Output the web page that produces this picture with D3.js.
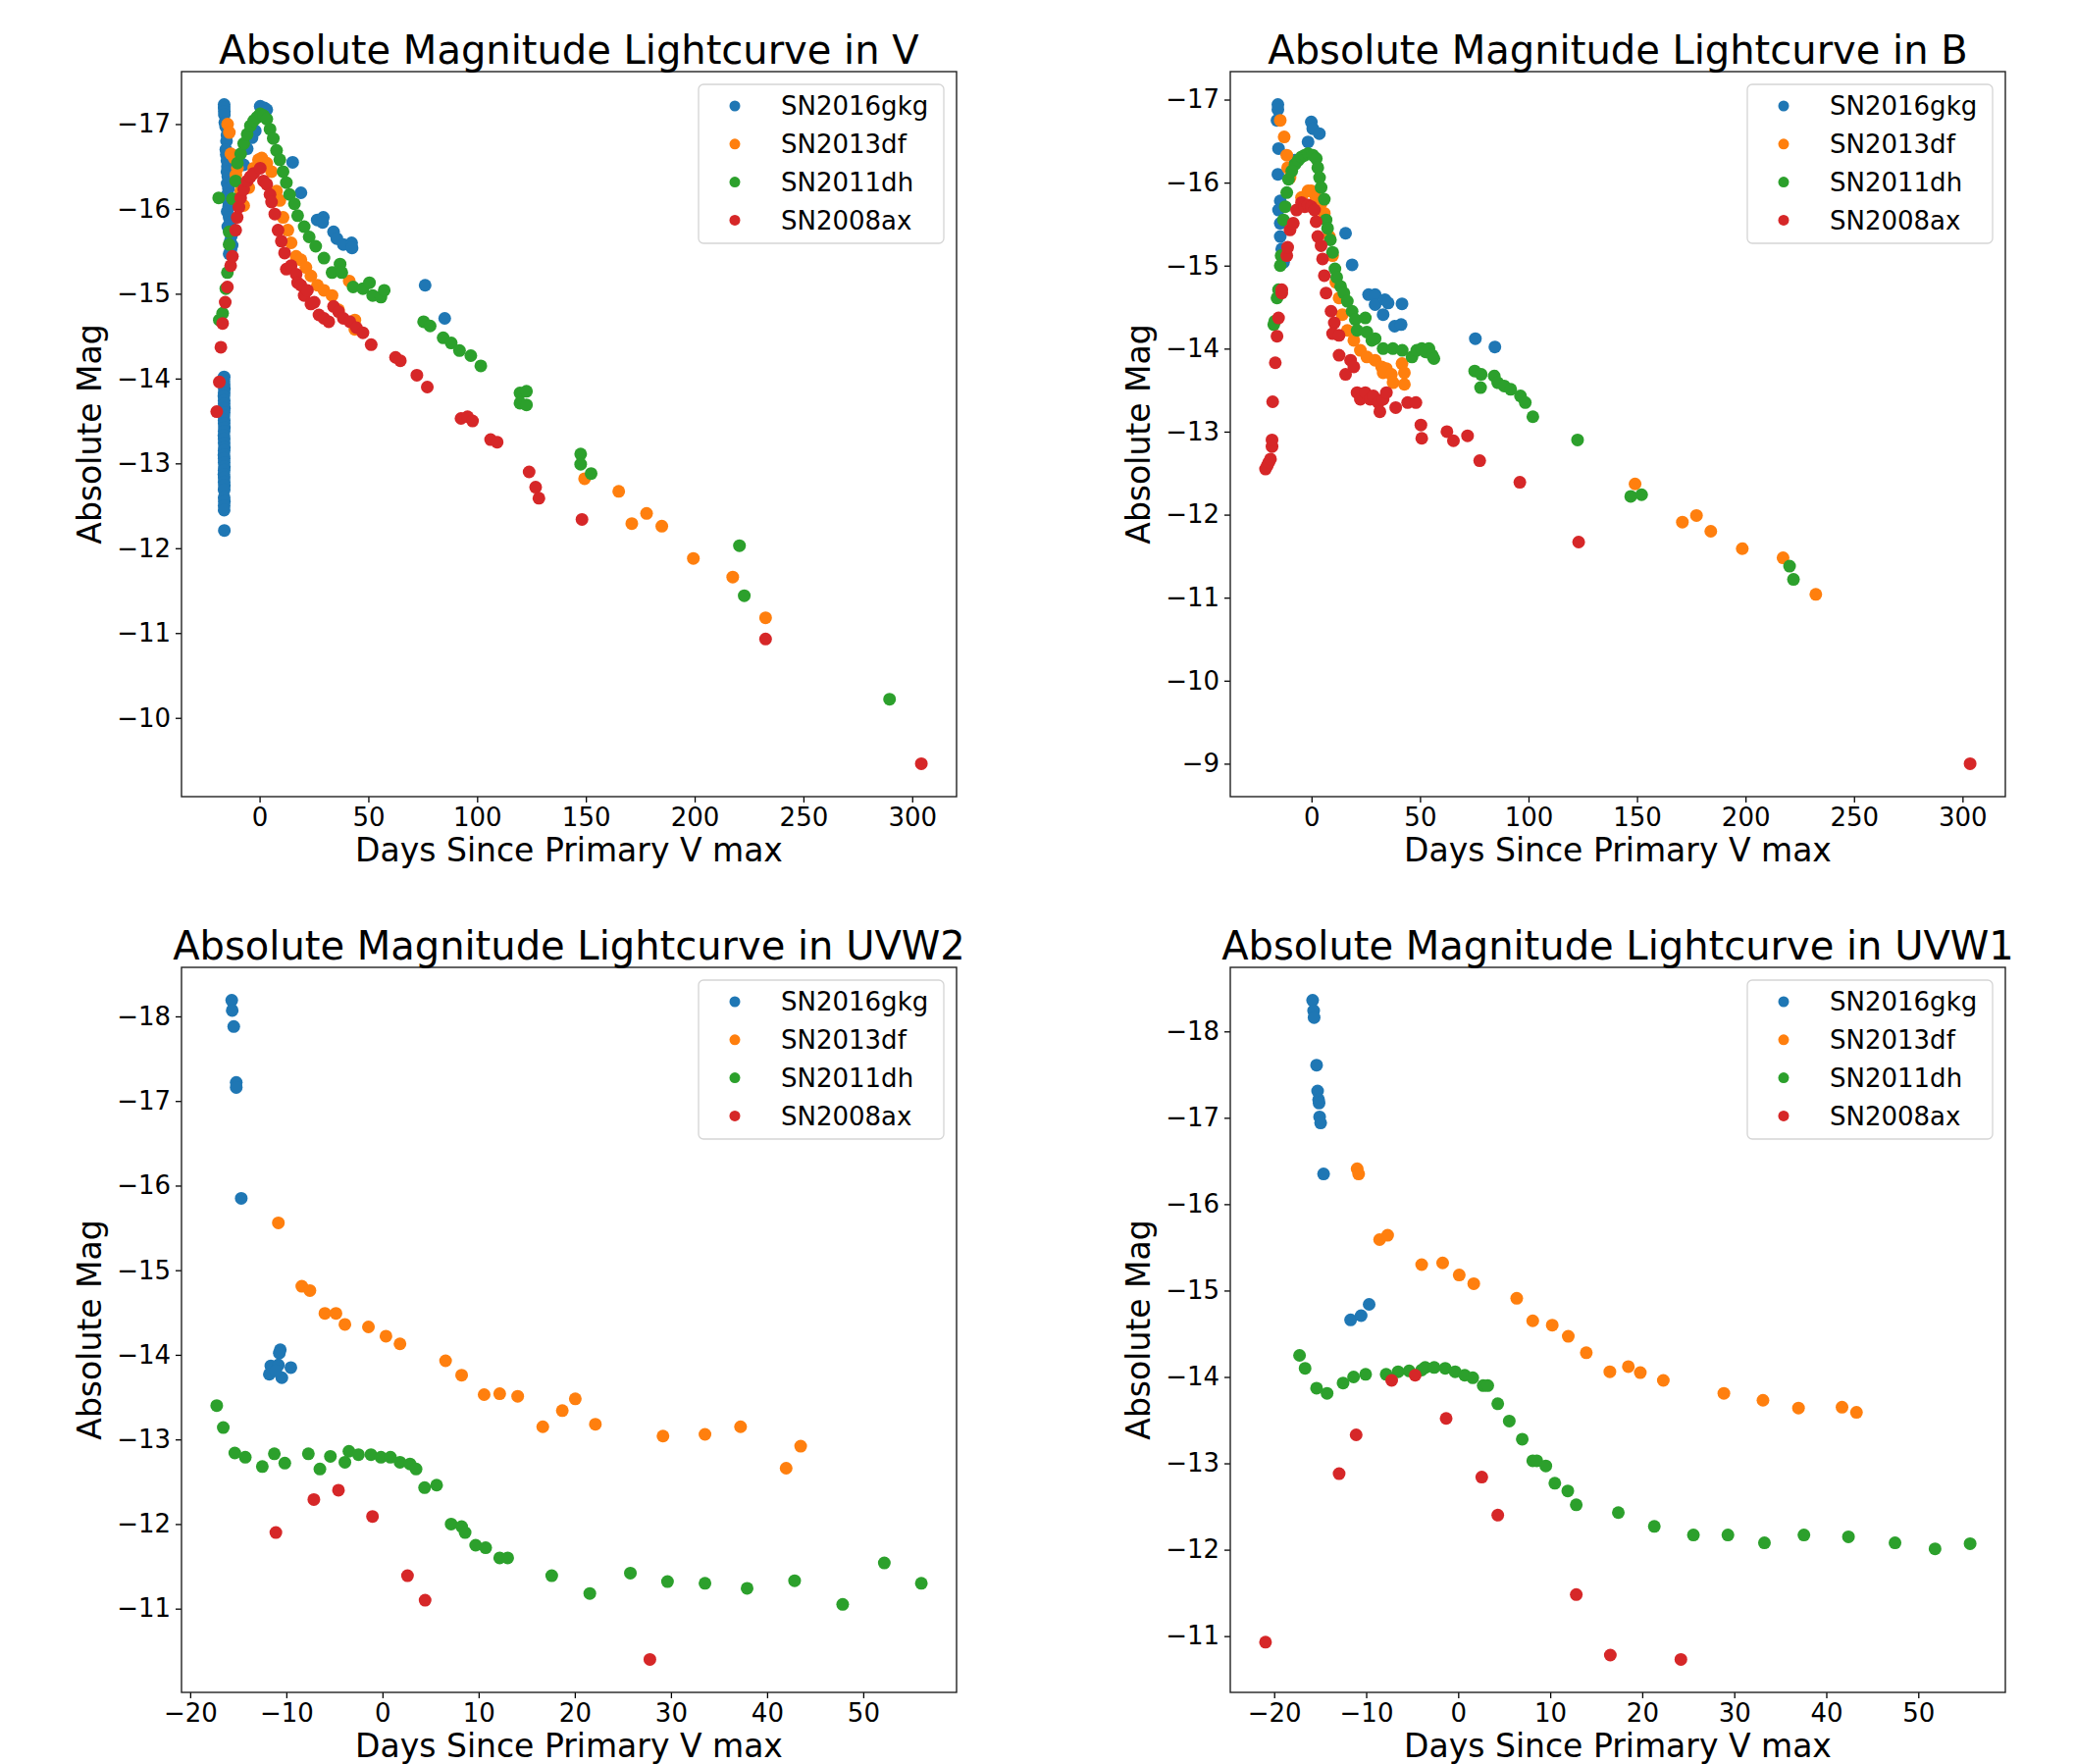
<!DOCTYPE html>
<html>
<head>
<meta charset="utf-8">
<script src="https://cdn.jsdelivr.net/npm/d3@7"></script>
<style>
  body { margin: 0; background: #fff; }
  text { font-family: 'DejaVu Sans', sans-serif; fill: #000; }
</style>
</head>
<body>
<div id="container"></div>
<script>
// supernova names, legend order = draw order
const snNames = ['SN2016gkg', 'SN2013df', 'SN2011dh', 'SN2008ax'];

// tick labels
const longDayTicks = [0, 50, 100, 150, 200, 250, 300];
const shortDayTicks = [-20, -10, 0, 10, 20, 30, 40, 50];
const vMagTicks = [-17, -16, -15, -14, -13, -12, -11, -10];
const bMagTicks = [-17, -16, -15, -14, -13, -12, -11, -10, -9];
const uvMagTicks = [-18, -17, -16, -15, -14, -13, -12, -11];

// [days since V max, absolute mag] -- V band
const vGkg = [
  [-16.3, -17.23], [-16.3, -17.19], [-16.2, -17.15], [-16.2, -17.11], [-16.0, -17.02], [-15.6, -16.97],
  [-15.0, -16.87], [-15.2, -16.80], [-15.5, -16.70], [-15.3, -16.64], [-15.0, -16.57], [-14.8, -16.50],
  [-15.0, -16.44], [-14.6, -16.38], [-14.9, -16.30], [-14.3, -16.24], [-14.8, -16.17], [-14.5, -16.10],
  [-14.2, -16.03], [-14.9, -15.97], [-14.0, -15.90], [-13.6, -15.84], [-14.6, -15.79], [-13.2, -15.74],
  [-13.0, -15.68], [-13.5, -15.62], [-12.6, -15.57], [-13.2, -15.52], [-14.0, -15.47],
  [-16.3, -14.02], [-16.4, -13.97], [-16.3, -13.93], [-16.2, -13.88], [-16.3, -13.83], [-16.4, -13.79],
  [-16.3, -13.74], [-16.3, -13.70], [-16.2, -13.65], [-16.3, -13.60], [-16.4, -13.56], [-16.3, -13.51],
  [-16.3, -13.47], [-16.2, -13.42], [-16.3, -13.38], [-16.4, -13.33], [-16.3, -13.29], [-16.3, -13.24],
  [-16.2, -13.19], [-16.3, -13.15], [-16.4, -13.10], [-16.3, -13.06], [-16.3, -13.01], [-16.2, -12.96],
  [-16.3, -12.92], [-16.4, -12.87], [-16.3, -12.83], [-16.3, -12.78], [-16.2, -12.74], [-16.3, -12.69],
  [-16.3, -12.60], [-16.2, -12.55], [-16.3, -12.50], [-16.3, -12.45], [-16.2, -12.21],
  [-7.3, -16.52], [-5.7, -16.71], [-3.5, -16.84], [-2.0, -16.92], [0.3, -17.21], [2.2, -17.19], [3.3, -17.17],
  [15.2, -16.55], [19.0, -16.19], [26.5, -15.87], [29.3, -15.90], [29.0, -15.84], [34.0, -15.73],
  [35.5, -15.65], [38.5, -15.58], [42.3, -15.60], [42.5, -15.54], [76.1, -15.10], [85.1, -14.71]
];
const vDf = [
  [-14.7, -17.0], [-13.9, -16.9], [-13.2, -16.65], [-11.7, -16.6], [-10.2, -16.48], [-10.9, -16.4],
  [-8.7, -16.21], [-7.3, -16.04], [-5.0, -16.25], [-2.7, -16.48], [-0.5, -16.58], [1.0, -16.6],
  [3.3, -16.54], [5.5, -16.44], [7.8, -16.21], [9.3, -16.1], [10.8, -15.9], [13.0, -15.75],
  [14.5, -15.6], [16.8, -15.44], [19.0, -15.4], [21.3, -15.31], [23.6, -15.21], [26.6, -15.1],
  [29.6, -15.04], [33.3, -14.98], [36.3, -14.81], [41.2, -15.15], [43.8, -14.69], [43.8, -14.58],
  [149.4, -12.82], [165.1, -12.67], [171.1, -12.29], [177.9, -12.41], [184.9, -12.26], [199.4, -11.88],
  [217.5, -11.66], [232.6, -11.18]
];
const vDh = [
  [-18.8, -16.13], [-18.5, -14.69], [-17.0, -14.77], [-15.5, -15.06], [-14.8, -15.25], [-14.0, -15.58],
  [-14.0, -15.73], [-12.5, -16.12], [-11.0, -16.33], [-10.2, -16.54], [-8.7, -16.65], [-7.3, -16.77],
  [-5.7, -16.88], [-4.2, -16.98], [-2.7, -17.04], [-1.2, -17.08], [0.3, -17.12], [1.8, -17.1],
  [3.3, -17.06], [4.8, -16.94], [6.3, -16.83], [7.8, -16.69], [9.3, -16.58], [10.8, -16.44],
  [12.3, -16.31], [13.8, -16.17], [16.0, -16.06], [17.5, -15.92], [20.5, -15.79], [22.8, -15.67],
  [25.8, -15.56], [29.6, -15.42], [33.3, -15.25], [37.0, -15.35], [37.8, -15.25], [43.0, -15.08],
  [47.5, -15.06], [50.5, -15.13], [52.0, -14.98], [55.8, -14.96], [57.3, -15.04], [75.4, -14.67],
  [78.4, -14.62], [84.4, -14.48], [88.1, -14.42], [91.9, -14.33], [97.1, -14.27], [101.7, -14.15],
  [119.7, -13.83], [122.7, -13.85], [119.7, -13.71], [122.7, -13.69], [147.6, -13.11], [147.6, -12.99],
  [152.4, -12.88], [220.6, -12.03], [222.8, -11.44], [289.6, -10.22]
];
const vAx = [
  [-19.7, -13.61], [-18.5, -13.96], [-17.8, -14.37], [-17.0, -14.65], [-15.8, -14.9], [-14.8, -15.08],
  [-13.3, -15.33], [-12.5, -15.44], [-11.0, -15.75], [-10.3, -15.9], [-9.5, -16.02], [-8.7, -16.13],
  [-7.3, -16.23], [-5.7, -16.33], [-4.2, -16.38], [-2.7, -16.42], [0.3, -16.48], [1.8, -16.33],
  [3.3, -16.29], [4.8, -16.17], [5.5, -16.08], [7.0, -15.94], [8.5, -15.75], [10.0, -15.62],
  [11.5, -15.48], [12.3, -15.29], [14.5, -15.33], [16.8, -15.23], [17.5, -15.13], [19.0, -15.1],
  [20.5, -14.98], [22.0, -15.04], [23.6, -14.88], [25.1, -14.9], [27.3, -14.75], [29.6, -14.71],
  [31.8, -14.67], [34.0, -14.85], [36.3, -14.79], [38.5, -14.71], [41.5, -14.67], [44.5, -14.6],
  [47.5, -14.54], [51.3, -14.4], [62.5, -14.25], [64.7, -14.21], [72.3, -14.04], [77.1, -13.9],
  [92.6, -13.53], [95.6, -13.55], [97.9, -13.5], [106.2, -13.28], [109.2, -13.25], [123.9, -12.9],
  [126.9, -12.72], [128.4, -12.59], [148.2, -12.34], [232.6, -10.93], [304.2, -9.46]
];

// B band
const bGkg = [
  [-15.5, -16.94], [-15.5, -16.88], [-15.9, -16.75], [-15.2, -16.41], [-15.5, -16.10], [-14.4, -15.78],
  [-15.2, -15.67], [-14.4, -15.51], [-14.4, -15.35], [-13.7, -15.2], [-12.9, -15.04], [-7.6, -16.27],
  [-1.6, -16.49], [-0.1, -16.73], [0.6, -16.65], [3.6, -16.59], [15.7, -15.39], [18.7, -15.01],
  [26.3, -14.65], [29.3, -14.65], [29.3, -14.53], [33.8, -14.59], [35.3, -14.55], [33.0, -14.41],
  [38.3, -14.27], [41.3, -14.29], [41.7, -14.54], [75.5, -14.12], [84.5, -14.02]
];
const bDf = [
  [-14.4, -16.75], [-12.6, -16.55], [-11.4, -16.33], [-11.0, -16.18], [-9.9, -16.06], [-4.6, -15.82],
  [-1.6, -15.90], [-0.1, -15.90], [2.1, -15.82], [4.4, -15.75], [5.9, -15.63], [8.2, -15.35],
  [9.7, -15.12], [11.2, -14.80], [12.7, -14.61], [14.2, -14.41], [16.5, -14.22], [19.5, -14.10],
  [22.5, -13.98], [25.5, -13.90], [29.3, -13.86], [32.3, -13.78], [34.5, -13.76], [33.0, -13.71],
  [36.8, -13.69], [37.6, -13.59], [41.7, -13.82], [42.8, -13.71], [42.8, -13.57], [149.1, -12.37],
  [170.9, -11.91], [177.4, -11.99], [184.0, -11.80], [198.5, -11.59], [217.3, -11.48], [232.4, -11.04]
];
const bDh = [
  [-16.9, -14.33], [-17.4, -14.29], [-15.9, -14.61], [-15.2, -14.71], [-14.4, -15.0], [-14.0, -15.12],
  [-12.9, -15.55], [-12.1, -15.71], [-11.4, -15.88], [-10.6, -16.04], [-9.1, -16.14], [-7.6, -16.22],
  [-6.1, -16.27], [-4.6, -16.31], [-3.1, -16.33], [-1.6, -16.35], [0.6, -16.33], [2.2, -16.29],
  [2.9, -16.18], [3.7, -16.06], [4.4, -15.94], [5.9, -15.80], [6.7, -15.55], [7.4, -15.45],
  [8.7, -15.31], [9.7, -15.16], [10.8, -14.96], [11.6, -14.86], [13.4, -14.75], [14.9, -14.67],
  [16.5, -14.57], [18.7, -14.45], [20.2, -14.35], [21.0, -14.22], [24.8, -14.37], [25.5, -14.20],
  [27.8, -14.10], [29.3, -14.12], [33.0, -14.0], [37.5, -14.0], [41.8, -13.98], [46.3, -13.90],
  [48.5, -13.98], [50.8, -14.0], [52.6, -13.96], [54.1, -14.0], [55.6, -13.92], [56.4, -13.88],
  [75.2, -13.73], [77.9, -13.53], [78.2, -13.69], [84.2, -13.67], [85.8, -13.59], [88.8, -13.55],
  [91.8, -13.51], [96.3, -13.43], [98.5, -13.35], [102.0, -13.18], [122.6, -12.90], [147.1, -12.22],
  [152.1, -12.24], [220.3, -11.38], [222.1, -11.22]
];
const bAx = [
  [-21.2, -12.55], [-20.4, -12.59], [-19.7, -12.63], [-18.9, -12.67], [-18.2, -12.82], [-18.2, -12.90],
  [-17.9, -13.36], [-16.7, -13.83], [-15.9, -14.15], [-15.2, -14.37], [-13.7, -14.67], [-13.7, -14.71],
  [-11.4, -15.12], [-11.0, -15.22], [-9.9, -15.43], [-8.4, -15.51], [-6.9, -15.67], [-4.6, -15.76],
  [-3.1, -15.71], [-1.6, -15.73], [-0.1, -15.71], [1.4, -15.67], [2.1, -15.53], [2.9, -15.35],
  [4.4, -15.24], [5.1, -15.08], [5.9, -14.88], [6.7, -14.67], [9.0, -14.45], [10.5, -14.31],
  [9.7, -14.18], [12.7, -14.16], [12.7, -13.92], [15.7, -13.69], [18.0, -13.86], [19.5, -13.78],
  [21.0, -13.47], [22.5, -13.39], [24.8, -13.47], [27.0, -13.39], [28.5, -13.43], [30.8, -13.35],
  [31.5, -13.24], [33.0, -13.39], [34.5, -13.47], [38.8, -13.29], [44.3, -13.35], [48.1, -13.35],
  [50.4, -13.08], [50.8, -12.92], [62.4, -13.0], [65.4, -12.89], [71.9, -12.95], [77.5, -12.65],
  [96.0, -12.39], [123.1, -11.67], [303.5, -9.0]
];

// UVW2 band
const w2Gkg = [
  [-15.68, -18.19], [-15.63, -18.07], [-15.47, -17.88], [-15.21, -17.22], [-15.21, -17.16], [-14.69, -15.85],
  [-10.63, -14.06], [-10.73, -14.02], [-11.61, -13.87], [-10.83, -13.88], [-11.77, -13.77], [-10.47, -13.73],
  [-9.53, -13.85], [-11.1, -13.81]
];
const w2Df = [
  [-10.83, -15.56], [-8.39, -14.81], [-7.55, -14.76], [-5.99, -14.49], [-4.84, -14.49], [-3.91, -14.36],
  [-1.46, -14.33], [0.36, -14.22], [1.82, -14.13], [6.56, -13.93], [8.23, -13.76], [10.57, -13.53],
  [12.19, -13.54], [14.06, -13.51], [16.67, -13.15], [18.70, -13.34], [20.05, -13.48], [22.14, -13.18],
  [29.17, -13.04], [33.54, -13.06], [37.24, -13.15], [41.98, -12.66], [43.49, -12.92]
];
const w2Dh = [
  [-17.24, -13.40], [-16.56, -13.14], [-15.36, -12.84], [-14.27, -12.79], [-12.5, -12.68], [-11.25, -12.83],
  [-10.16, -12.72], [-7.71, -12.83], [-6.51, -12.65], [-5.42, -12.80], [-3.91, -12.73], [-3.49, -12.86],
  [-2.5, -12.82], [-1.2, -12.82], [-0.16, -12.79], [0.83, -12.79], [1.82, -12.73], [2.86, -12.71],
  [3.49, -12.65], [4.38, -12.43], [5.63, -12.46], [7.14, -12.0], [8.23, -11.97], [8.59, -11.90],
  [9.69, -11.75], [10.73, -11.72], [12.19, -11.60], [13.02, -11.60], [17.60, -11.39], [21.56, -11.18],
  [25.78, -11.42], [29.64, -11.32], [33.54, -11.30], [37.92, -11.24], [42.86, -11.33], [47.86, -11.05],
  [52.19, -11.54], [56.04, -11.30]
];
const w2Ax = [
  [-11.09, -11.90], [-7.14, -12.29], [-4.58, -12.40], [-1.04, -12.09], [2.60, -11.39], [4.43, -11.10],
  [27.81, -10.40]
];

// UVW1 band
const w1Gkg = [
  [-15.82, -18.36], [-15.71, -18.24], [-15.66, -18.16], [-15.39, -17.61], [-15.28, -17.31], [-15.17, -17.21],
  [-15.12, -17.17], [-15.06, -17.01], [-14.95, -16.94], [-14.63, -16.35], [-11.69, -14.66], [-10.55, -14.71],
  [-9.68, -14.84]
];
const w1Df = [
  [-10.98, -16.41], [-10.82, -16.35], [-8.54, -15.59], [-7.67, -15.64], [-3.97, -15.30], [-1.69, -15.32],
  [0.11, -15.18], [1.69, -15.08], [6.36, -14.91], [8.10, -14.65], [10.22, -14.60], [11.96, -14.47],
  [13.92, -14.28], [16.48, -14.06], [18.49, -14.12], [19.79, -14.05], [22.29, -13.96], [28.87, -13.81],
  [33.12, -13.73], [36.98, -13.64], [41.71, -13.65], [43.28, -13.59]
];
const w1Dh = [
  [-17.24, -14.25], [-16.64, -14.10], [-15.39, -13.87], [-14.25, -13.81], [-12.51, -13.93], [-11.37, -14.00],
  [-10.06, -14.03], [-7.83, -14.03], [-6.53, -14.06], [-5.33, -14.07], [-3.97, -14.08], [-3.59, -14.11],
  [-2.61, -14.11], [-1.41, -14.10], [-0.33, -14.06], [0.71, -14.02], [1.58, -13.99], [2.72, -13.90],
  [3.21, -13.90], [4.30, -13.69], [5.55, -13.49], [6.96, -13.28], [8.10, -13.03], [8.54, -13.03],
  [9.52, -12.97], [10.50, -12.77], [11.91, -12.68], [12.83, -12.52], [17.40, -12.43], [21.31, -12.27],
  [25.56, -12.17], [29.31, -12.17], [33.28, -12.08], [37.57, -12.17], [42.41, -12.15], [47.47, -12.08],
  [51.82, -12.01], [55.63, -12.07]
];
const w1Ax = [
  [-20.94, -10.93], [-12.94, -12.88], [-11.09, -13.33], [-7.23, -13.96], [-4.68, -14.02], [-1.31, -13.52],
  [2.56, -12.84], [4.30, -12.40], [12.83, -11.48], [16.53, -10.78], [24.20, -10.73]
];

const colors = ['#1f77b4', '#ff7f0e', '#2ca02c', '#d62728'];

const panels = [
  { title: 'Absolute Magnitude Lightcurve in V', series: [vGkg, vDf, vDh, vAx], xTicks: longDayTicks, yTicks: vMagTicks, left: 185, top: 73 },
  { title: 'Absolute Magnitude Lightcurve in B', series: [bGkg, bDf, bDh, bAx], xTicks: longDayTicks, yTicks: bMagTicks, left: 1254, top: 73 },
  { title: 'Absolute Magnitude Lightcurve in UVW2', series: [w2Gkg, w2Df, w2Dh, w2Ax], xTicks: shortDayTicks, yTicks: uvMagTicks, left: 185, top: 986 },
  { title: 'Absolute Magnitude Lightcurve in UVW1', series: [w1Gkg, w1Df, w1Dh, w1Ax], xTicks: shortDayTicks, yTicks: uvMagTicks, left: 1254, top: 986 }
];

const width = 790, height = 739;

const svg = d3.select('#container').append('svg')
  .attr('width', 2115)
  .attr('height', 1798)
  .style('display', 'block');

svg.append('rect').attr('width', 2115).attr('height', 1798).attr('fill', '#fff');

// matplotlib-ish 5% margins
function padded(extent) {
  const pad = (extent[1] - extent[0]) * 0.05;
  return [extent[0] - pad, extent[1] + pad];
}

panels.forEach(p => {
  const all = p.series.flat();
  const x = d3.scaleLinear().domain(padded(d3.extent(all, d => d[0]))).range([0, width]);
  // brighter (more negative) magnitudes at the top
  const y = d3.scaleLinear().domain(padded(d3.extent(all, d => d[1]))).range([0, height]);

  const g = svg.append('g').attr('transform', `translate(${p.left},${p.top})`);

  const fmt = d3.format('d');

  const xAxis = g.append('g')
    .attr('transform', `translate(0,${height})`)
    .call(d3.axisBottom(x).tickValues(p.xTicks).tickSize(6).tickPadding(6).tickFormat(fmt));
  const yAxis = g.append('g')
    .call(d3.axisLeft(y).tickValues(p.yTicks).tickSize(6).tickPadding(5).tickFormat(fmt));

  [xAxis, yAxis].forEach(a => {
    a.select('.domain').remove();
    a.selectAll('line').attr('stroke', '#000').attr('stroke-width', 1.3);
    a.selectAll('text').style('font-family', 'DejaVu Sans').style('font-size', '26px').attr('fill', '#000');
  });

  p.series.forEach((s, i) => {
    g.append('g')
      .selectAll('circle')
      .data(s)
      .join('circle')
        .attr('cx', d => x(d[0]))
        .attr('cy', d => y(d[1]))
        .attr('r', 6.5)
        .attr('fill', colors[i]);
  });

  g.append('rect')
    .attr('width', width)
    .attr('height', height)
    .attr('fill', 'none')
    .attr('stroke', '#222')
    .attr('stroke-width', 1.4);

  g.append('text')
    .attr('x', width / 2)
    .attr('y', -8)
    .attr('text-anchor', 'middle')
    .style('font-size', '40px')
    .text(p.title);

  g.append('text')
    .attr('x', width / 2)
    .attr('y', height + 66)
    .attr('text-anchor', 'middle')
    .style('font-size', '33px')
    .text('Days Since Primary V max');

  g.append('text')
    .attr('transform', `translate(-82,${height / 2}) rotate(-90)`)
    .attr('text-anchor', 'middle')
    .style('font-size', '33px')
    .text('Absolute Mag');

  // legend
  const legend = g.append('g').attr('transform', `translate(${width - 263},13)`);
  legend.append('rect')
    .attr('width', 250)
    .attr('height', 162)
    .attr('rx', 5)
    .attr('fill', '#fff')
    .attr('fill-opacity', 0.8)
    .attr('stroke', '#d5d5d5')
    .attr('stroke-width', 1.3);
  const rows = legend.selectAll('g.row')
    .data(snNames)
    .join('g')
      .attr('class', 'row')
      .attr('transform', (d, i) => `translate(0,${22 + i * 38.8})`);
  rows.append('circle')
    .attr('cx', 37)
    .attr('r', 5.5)
    .attr('fill', (d, i) => colors[i]);
  rows.append('text')
    .attr('x', 84)
    .attr('dy', '0.35em')
    .style('font-size', '26px')
    .text(d => d);
});
</script>
</body>
</html>
